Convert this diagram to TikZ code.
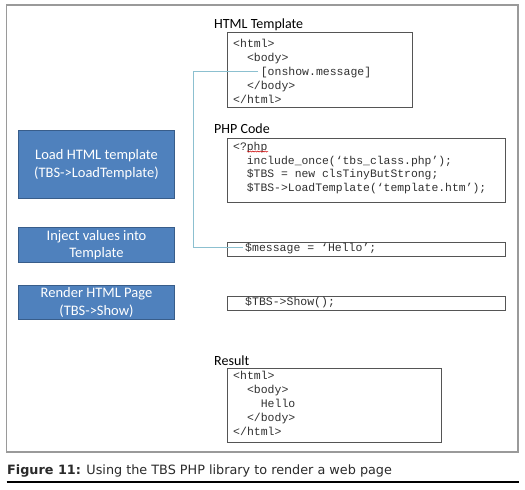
\documentclass[tikz,border=0pt]{standalone}
\usepackage{fontspec}
\setmainfont{Carlito}
\setmonofont{Liberation Mono}
\newfontfamily\capfont{DejaVu Sans}
\usetikzlibrary{decorations.pathmorphing}
\definecolor{boxblue}{HTML}{4F81BD}
\definecolor{boxedge}{HTML}{385D8A}
\definecolor{codegray}{HTML}{303030}
\definecolor{codeedge}{HTML}{555555}
\definecolor{framegray}{HTML}{9A9A9A}
\definecolor{linkblue}{HTML}{8CC0D0}
\definecolor{capgray}{HTML}{2A2A2A}
\tikzset{
  stepbox/.style={draw=boxedge, line width=1pt, fill=boxblue, text=white,
    font=\fontsize{14.5}{17.5}\selectfont, align=center, inner sep=0pt,
    minimum width=156pt, anchor=north west},
  codebox/.style={draw=codeedge, line width=1pt, inner sep=0pt, anchor=north west},
  code/.style={font=\ttfamily\fontsize{11.5}{14}\selectfont, text=codegray,
    align=left, inner sep=0pt, anchor=west},
  title/.style={font=\fontsize{14}{16}\selectfont, anchor=west, inner sep=0pt},
  conn/.style={draw=linkblue, line width=1pt},
}
\begin{document}
\begin{tikzpicture}[x=1pt,y=-1pt]
\useasboundingbox (0,0) rectangle (525,490);
% outer frame
\draw[framegray, line width=1.3pt] (6.5,5) rectangle (518,452);
% left step boxes
\node[stepbox, minimum height=68pt] (load) at (18,130) {Load HTML template\\(TBS->LoadTemplate)};
\node[stepbox, minimum height=35pt] (inject) at (18,227) {Inject values into\\Template};
\node[stepbox, minimum height=34pt] (render) at (18,285) {Render HTML Page\\(TBS->Show)};
% titles
\node[title] (thtml) at (214,25) {HTML Template};
\node[title] (tphp) at (214,129) {PHP Code};
\node[title] (tres) at (214,361) {Result};
% code boxes
\node[codebox, minimum width=185pt, minimum height=75pt] (htmlbox) at (227,32) {};
\node[codebox, minimum width=278pt, minimum height=64pt] (phpbox) at (227,138) {};
\node[codebox, minimum width=278pt, minimum height=14pt] (msgbox) at (227,242) {};
\node[codebox, minimum width=278pt, minimum height=14pt] (showbox) at (227,296) {};
\node[codebox, minimum width=214pt, minimum height=74pt] (resbox) at (227,368) {};
% code texts
\node[code] (htmlcode) at (233,71) {<html>\\\phantom{xx}<body>\\\phantom{xxxx}[onshow.message]\\\phantom{xx}</body>\\</html>};
\node[code, font=\ttfamily\fontsize{11.4}{13.5}\selectfont] (phpcode) at (233,168) {<?php\\\phantom{xx}include\_once(‘tbs\_class.php’);\\\phantom{xx}\$TBS = new clsTinyButStrong;\\\phantom{xx}\$TBS->LoadTemplate(‘template.htm’);};
\node[code] (msgcode) at (245,249) {\$message = ‘Hello’;};
\node[code] (showcode) at (245,303) {\$TBS->Show();};
\node[code] (rescode) at (233,403) {<html>\\\phantom{xx}<body>\\\phantom{xxxx}Hello\\\phantom{xx}</body>\\</html>};
% spell-check squiggle
\draw[red!80!black, line width=0.5pt, decorate, decoration={snake, amplitude=0.6pt, segment length=2.5pt}] (247,151.5) -- (268,151.5);
% connector
\coordinate (src) at (258,71);
\coordinate (dst) at (243,247);
\draw[conn] (src) -- (193,71) |- (dst);
% caption
\node[anchor=west, inner sep=0pt, font=\capfont\fontsize{12.8}{14}\selectfont, text=capgray] (cap) at (7,471) {\textbf{Figure 11:} Using the TBS PHP library to render a web page};
\draw[black, line width=1.4pt] (6.5,482) -- (519,482);
\end{tikzpicture}
\end{document}
